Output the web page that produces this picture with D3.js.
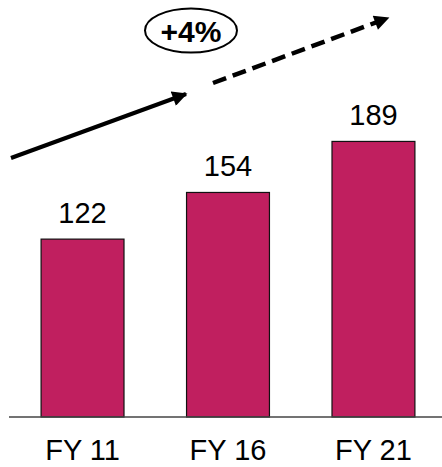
<!DOCTYPE html>
<html>
<head>
<meta charset="utf-8">
<script src="https://cdn.jsdelivr.net/npm/d3@7"></script>
<style>
  body { margin: 0; background: #fff; }
  text { font-family: "Liberation Sans", Arial, sans-serif; }
</style>
</head>
<body>
<svg id="chart" width="442" height="467"></svg>
<script>
var categories = ["FY 11", "FY 16", "FY 21"];
var values = [122, 154, 189];
var growthLabel = "+4%";

var svg = d3.select("#chart");
var width = 442, height = 467;
var baseY = 417;

var x = d3.scaleBand()
    .domain(categories)
    .range([12, 444])
    .paddingInner(0.43)
    .paddingOuter(0.2);

var y = d3.scaleLinear()
    .domain([0, 286])
    .range([baseY, 0]);

// arrow heads
var defs = svg.append("defs");
defs.append("marker")
    .attr("id", "head")
    .attr("viewBox", "0 0 10 10")
    .attr("refX", 9)
    .attr("refY", 5)
    .attr("markerUnits", "userSpaceOnUse")
    .attr("markerWidth", 16)
    .attr("markerHeight", 15)
    .attr("orient", "auto")
  .append("path")
    .attr("d", "M0,0 L10,5 L0,10 Z")
    .attr("fill", "#000");

// bars
svg.append("g")
  .selectAll("rect")
  .data(values)
  .enter().append("rect")
    .attr("x", function(d, i) { return x(categories[i]); })
    .attr("y", function(d) { return y(d); })
    .attr("width", x.bandwidth())
    .attr("height", function(d) { return baseY - y(d); })
    .attr("fill", "#c01f5f")
    .attr("stroke", "#111")
    .attr("stroke-width", 1.2);

// value labels
svg.append("g")
  .selectAll("text")
  .data(values)
  .enter().append("text")
    .attr("x", function(d, i) { return x(categories[i]) + x.bandwidth() / 2; })
    .attr("y", function(d) { return y(d) - 16; })
    .attr("text-anchor", "middle")
    .attr("font-size", 29)
    .attr("fill", "#000")
    .text(function(d) { return d; });

// axis line
svg.append("line")
    .attr("x1", 9).attr("x2", 442)
    .attr("y1", baseY).attr("y2", baseY)
    .attr("stroke", "#444")
    .attr("stroke-width", 1.3);

// category labels
svg.append("g")
  .selectAll("text")
  .data(categories)
  .enter().append("text")
    .attr("x", function(d) { return x(d) + x.bandwidth() / 2; })
    .attr("y", 460)
    .attr("text-anchor", "middle")
    .attr("font-size", 29)
    .attr("fill", "#000")
    .text(function(d) { return d; });

// trend arrows
svg.append("line")
    .attr("x1", 11).attr("y1", 158)
    .attr("x2", 186).attr("y2", 94)
    .attr("stroke", "#000")
    .attr("stroke-width", 4)
    .attr("marker-end", "url(#head)");

svg.append("line")
    .attr("x1", 213).attr("y1", 83)
    .attr("x2", 388).attr("y2", 18)
    .attr("stroke", "#000")
    .attr("stroke-width", 4.5)
    .attr("stroke-dasharray", "14,7")
    .attr("marker-end", "url(#head)");

// growth badge
svg.append("ellipse")
    .attr("cx", 191).attr("cy", 30.5)
    .attr("rx", 46).attr("ry", 22)
    .attr("fill", "#fff")
    .attr("stroke", "#000")
    .attr("stroke-width", 2);

svg.append("text")
    .attr("x", 191)
    .attr("y", 41.5)
    .attr("text-anchor", "middle")
    .attr("font-size", 30)
    .attr("font-weight", "bold")
    .attr("fill", "#000")
    .text(growthLabel);
</script>
</body>
</html>
